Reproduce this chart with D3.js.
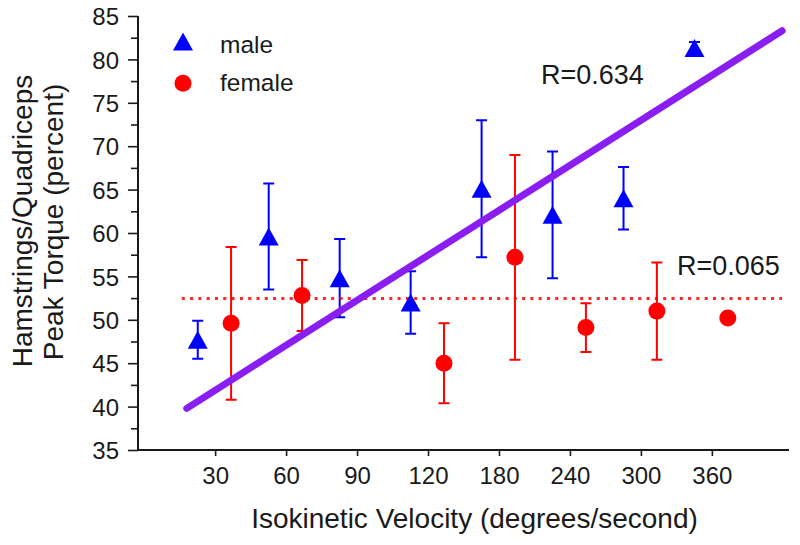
<!DOCTYPE html>
<html>
<head>
<meta charset="utf-8">
<script src="https://cdn.jsdelivr.net/npm/d3@7"></script>
<style>
  html, body { margin: 0; padding: 0; background: #fff; }
  svg text { font-family: "Liberation Sans", Arial, Helvetica, sans-serif; fill: #1a1a1a; }
</style>
</head>
<body>
<svg id="chart" width="800" height="545"></svg>
<script>
// ---- data ----
const velocities = [30, 60, 90, 120, 180, 240, 300, 360];
const maleMean   = [47.7, 59.6, 54.8, 52.0, 65.1, 62.1, 64.0, 81.3];
const maleErr    = [2.2, 6.1, 4.5, 3.6, 7.9, 7.3, 3.6, 0.7];
const femaleVel  = [30, 60, 120, 180, 240, 300, 360];
const femaleMean = [49.6, 52.8, 45.0, 57.2, 49.1, 51.0, 50.2];
const femaleErr  = [8.8, 4.1, 4.6, 11.8, 2.8, 5.6, 0];
const yTicks     = [35, 40, 45, 50, 55, 60, 65, 70, 75, 80, 85];
// regression lines: [category index, value] end points
const maleFit    = [[-0.4, 39.8], [7.99, 83.3]];
const femaleFit  = [[-0.47, 52.45], [7.99, 52.45]];
const maleR = "R=0.634", femaleR = "R=0.065";

// ---- layout ----
const svg = d3.select("#chart");
const mLeft = 138, mRight = 789, mTop = 16, mBottom = 450;
const pad = 1.087;
const x = d3.scaleLinear().domain([-pad, velocities.length - 1 + pad]).range([mLeft, mRight]);
const y = d3.scaleLinear().domain([35, 85]).range([mBottom, mTop]);
const step = x(1) - x(0);
const maleOff = -0.245 * step, femaleOff = 0.225 * step;
const idx = v => velocities.indexOf(v);

const blue = "#0000ff", red = "#ff0000", purple = "#8a1ef0";

// triangle centered on its bounding box
const triW = 20, triH = 18;
const triPath = (cx, cy) => `M${cx},${cy - triH/2}L${cx + triW/2},${cy + triH/2}L${cx - triW/2},${cy + triH/2}Z`;

// ---- axes ----
const yAxis = svg.append("g").attr("transform", `translate(${mLeft},0)`)
  .call(d3.axisLeft(y).tickValues(yTicks).tickSize(10).tickPadding(9).tickFormat(d3.format("d")));
const yMinor = svg.append("g").attr("transform", `translate(${mLeft},0)`)
  .call(d3.axisLeft(y).tickValues(d3.range(37.5, 85, 5)).tickSize(7).tickFormat(""));
const xAxis = svg.append("g").attr("transform", `translate(0,${mBottom})`)
  .call(d3.axisBottom(x).tickValues(d3.range(velocities.length)).tickSize(6).tickPadding(11)
        .tickFormat(i => velocities[i]));
[yAxis, yMinor, xAxis].forEach(g => {
  g.select(".domain").attr("stroke", "#1a1a1a").attr("stroke-width", 2);
  g.selectAll(".tick line").attr("stroke", "#1a1a1a").attr("stroke-width", 1.6);
  g.selectAll("text").style("font-size", "24px").attr("fill", "#1a1a1a");
});
yMinor.select(".domain").remove();
xAxis.select(".domain").attr("d", `M${mLeft},0H${mRight}`);
yAxis.select(".domain").attr("d", `M0,${mTop}V${mBottom}`);
xAxis.selectAll("text").attr("dy", "0.71em");
yAxis.selectAll("text").attr("dy", "0.36em");

// ---- axis titles ----
svg.append("text").attr("x", 474.5).attr("y", 528).attr("text-anchor", "middle")
  .style("font-size", "28px").text("Isokinetic Velocity (degrees/second)");
svg.append("text").attr("transform", "translate(32,221) rotate(-90)").attr("text-anchor", "middle")
  .style("font-size", "28px").text("Hamstrings/Quadriceps");
svg.append("text").attr("transform", "translate(63,222) rotate(-90)").attr("text-anchor", "middle")
  .style("font-size", "28px").text("Peak Torque (percent)");

// ---- error bars ----
const capW = 11;
function errBars(vel, mean, err, off, color) {
  const g = svg.append("g").attr("stroke", color).attr("stroke-width", 2).attr("fill", "none");
  vel.forEach((v, i) => {
    if (!err[i]) return;
    const cx = x(idx(v)) + off;
    const y1 = y(mean[i] + err[i]), y0 = y(mean[i] - err[i]);
    g.append("path").attr("d", `M${cx},${y0}V${y1}M${cx - capW/2},${y1}H${cx + capW/2}M${cx - capW/2},${y0}H${cx + capW/2}`);
  });
}
errBars(velocities, maleMean, maleErr, maleOff, blue);
errBars(femaleVel, femaleMean, femaleErr, femaleOff, red);

// ---- fit lines ----
const line = d3.line().x(d => x(d[0])).y(d => y(d[1]));
svg.append("path").datum(femaleFit).attr("d", line).attr("fill", "none")
  .attr("stroke", red).attr("stroke-width", 3).attr("stroke-dasharray", "3 5.3").attr("opacity", 0.85);
svg.append("path").datum(maleFit).attr("d", line).attr("fill", "none")
  .attr("stroke", purple).attr("stroke-width", 7).attr("stroke-linecap", "round");

// ---- markers ----
svg.append("g").selectAll("path").data(velocities).join("path")
  .attr("d", (v, i) => triPath(x(idx(v)) + maleOff, y(maleMean[i]))).attr("fill", blue);
svg.append("g").selectAll("circle").data(femaleVel).join("circle")
  .attr("cx", v => x(idx(v)) + femaleOff).attr("cy", (v, i) => y(femaleMean[i]))
  .attr("r", 8.5).attr("fill", red);

// ---- R labels ----
svg.append("text").attr("x", 541).attr("y", 84).style("font-size", "27px").text(maleR);
svg.append("text").attr("x", 677).attr("y", 275).style("font-size", "27px").text(femaleR);

// ---- legend ----
svg.append("path").attr("d", triPath(183, 41.5)).attr("fill", blue);
svg.append("circle").attr("cx", 183).attr("cy", 83.3).attr("r", 8.5).attr("fill", red);
svg.append("text").attr("x", 220).attr("y", 53).style("font-size", "24.5px").text("male");
svg.append("text").attr("x", 220).attr("y", 90.5).style("font-size", "24.5px").text("female");
</script>
</body>
</html>
